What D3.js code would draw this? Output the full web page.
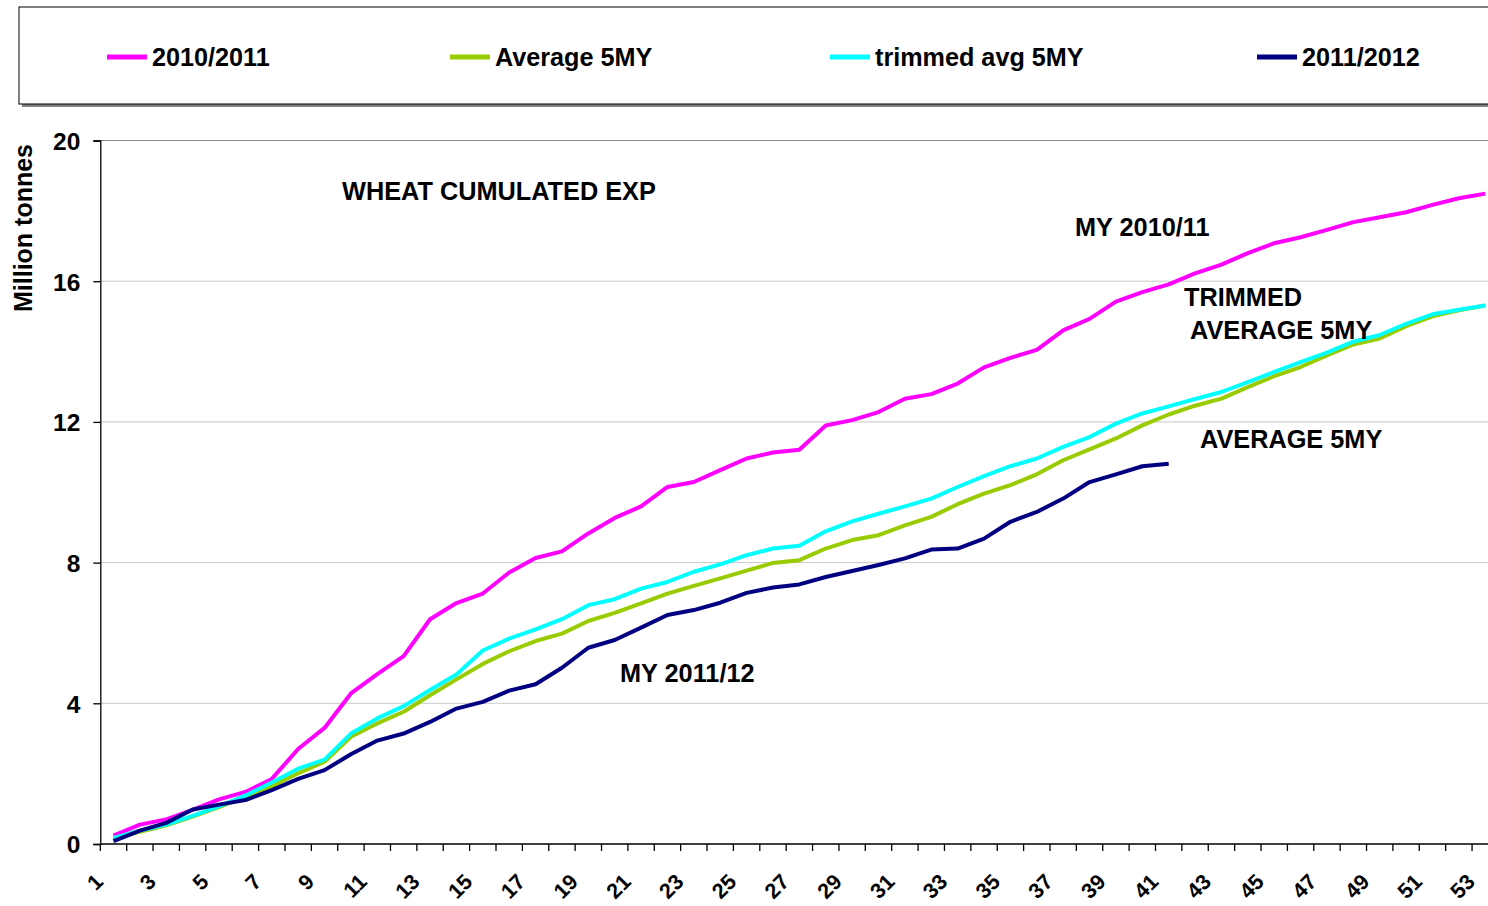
<!DOCTYPE html>
<html>
<head>
<meta charset="utf-8">
<script src="https://cdn.jsdelivr.net/npm/d3@7"></script>
<style>
  html, body { margin: 0; padding: 0; background: #fff; }
  svg { display: block; font-family: "Liberation Sans", Arial, sans-serif; }
</style>
</head>
<body>
<svg id="chart" width="1488" height="906"></svg>
<script>
// ---- data ----
const weeks = d3.range(1, 54); // 1..53
const tickLabels = weeks.filter(w => w % 2 === 1);
const yTicks = [0, 4, 8, 12, 16, 20];

const s2010 = [0.24,0.55,0.70,0.97,1.27,1.48,1.85,2.70,3.30,4.28,4.83,5.34,6.39,6.85,7.12,7.72,8.13,8.32,8.83,9.27,9.60,10.15,10.29,10.63,10.96,11.13,11.21,11.90,12.05,12.28,12.66,12.79,13.09,13.55,13.82,14.05,14.60,14.93,15.42,15.69,15.91,16.22,16.47,16.80,17.08,17.25,17.46,17.68,17.82,17.96,18.17,18.36,18.49];
const avg5 = [0.13,0.35,0.53,0.78,1.05,1.34,1.64,2.01,2.34,3.05,3.43,3.76,4.23,4.68,5.12,5.48,5.77,5.98,6.34,6.57,6.84,7.12,7.34,7.55,7.77,7.99,8.07,8.40,8.64,8.78,9.06,9.30,9.66,9.96,10.20,10.51,10.91,11.22,11.53,11.90,12.21,12.46,12.66,12.99,13.30,13.56,13.89,14.20,14.37,14.72,15.00,15.17,15.31];
const trim5 = [0.17,0.38,0.55,0.80,1.07,1.38,1.75,2.14,2.40,3.14,3.57,3.92,4.38,4.82,5.50,5.84,6.10,6.39,6.79,6.96,7.26,7.45,7.74,7.95,8.21,8.40,8.48,8.89,9.17,9.39,9.60,9.82,10.15,10.46,10.74,10.96,11.29,11.57,11.95,12.24,12.44,12.65,12.85,13.13,13.42,13.70,13.97,14.28,14.47,14.79,15.06,15.19,15.31];
const s2011 = [0.08,0.38,0.60,0.98,1.12,1.25,1.53,1.85,2.10,2.55,2.94,3.14,3.47,3.85,4.04,4.36,4.54,5.01,5.58,5.80,6.15,6.51,6.65,6.86,7.14,7.29,7.38,7.59,7.76,7.93,8.12,8.37,8.40,8.68,9.16,9.44,9.82,10.29,10.51,10.74,10.81];

const seriesNames = ["2010/2011", "Average 5MY", "trimmed avg 5MY", "2011/2012"];
const seriesColors = ["#FF00FF", "#99CC00", "#00FFFF", "#000080"];
const seriesData = [s2010, avg5, trim5, s2011];

const annotations = [
  {text: "WHEAT CUMULATED EXP", x: 342, y: 200},
  {text: "MY 2010/11", x: 1075, y: 236},
  {text: "TRIMMED", x: 1184, y: 306},
  {text: "AVERAGE 5MY", x: 1190, y: 339},
  {text: "AVERAGE 5MY", x: 1200, y: 448},
  {text: "MY 2011/12", x: 620, y: 682}
];

// ---- layout ----
const svg = d3.select("#chart");
const plotLeft = 100.3, bandW = 26.38;
const plotRight = plotLeft + weeks.length * bandW;
const plotTop = 140.5, plotBottom = 844;

const x = d3.scaleBand().domain(weeks).range([plotLeft, plotRight]).padding(0);
const y = d3.scaleLinear().domain([0, 20]).range([plotBottom, plotTop]);
const cx = w => x(w) + x.bandwidth() / 2;

// legend box
svg.append("rect").attr("x", 22).attr("y", 10).attr("width", 1500).attr("height", 97).attr("fill", "#808080");
svg.append("rect").attr("x", 19).attr("y", 7).attr("width", 1500).attr("height", 97)
  .attr("fill", "#fff").attr("stroke", "#000").attr("stroke-width", 1);

const legendX = [107, 450, 830, 1257];
seriesNames.forEach((n, i) => {
  svg.append("line").attr("x1", legendX[i]).attr("x2", legendX[i] + 40)
    .attr("y1", 57).attr("y2", 57).attr("stroke", seriesColors[i]).attr("stroke-width", 5);
  svg.append("text").attr("x", legendX[i] + 45).attr("y", 66)
    .attr("font-size", 25.2).attr("font-weight", "bold").attr("fill", "#000").text(n);
});

// gridlines
svg.append("g").selectAll("line").data(yTicks.filter(t => t > 0)).join("line")
  .attr("x1", plotLeft).attr("x2", plotRight)
  .attr("y1", d => y(d)).attr("y2", d => y(d))
  .attr("stroke", d => d === 20 ? "#8a8a8a" : "#c8c8c8").attr("stroke-width", 1);

// y axis
const yAxis = d3.axisLeft(y).tickValues(yTicks).tickSize(7).tickPadding(13);
const gy = svg.append("g").attr("transform", `translate(${plotLeft},0)`).call(yAxis);
gy.select(".domain").attr("stroke", "#000").attr("stroke-width", 1.3);
gy.selectAll(".tick line").attr("stroke", "#000").attr("stroke-width", 1.3);
gy.selectAll(".tick text").attr("font-size", 24.5).attr("font-weight", "bold").attr("fill", "#000")
  .attr("font-family", "Liberation Sans, Arial, sans-serif").attr("dy", "0.36em");

// x axis
const xAxis = d3.axisBottom(x).tickValues(tickLabels).tickSize(0).tickPadding(0);
const gx = svg.append("g").attr("transform", `translate(0,${plotBottom})`).call(xAxis);
gx.select(".domain").remove();
gx.selectAll(".tick text").attr("font-size", 21.5).attr("font-weight", "bold").attr("fill", "#000")
  .attr("font-family", "Liberation Sans, Arial, sans-serif")
  .attr("text-anchor", "end").attr("dy", 0).attr("y", 0)
  .attr("transform", "translate(-9,39) rotate(-45)");
svg.append("line").attr("x1", plotLeft).attr("x2", plotRight).attr("y1", plotBottom).attr("y2", plotBottom)
  .attr("stroke", "#000").attr("stroke-width", 1.3);
svg.append("g").selectAll("line").data(weeks.concat([null])).join("line")
  .attr("x1", (d, i) => plotLeft + i * x.bandwidth()).attr("x2", (d, i) => plotLeft + i * x.bandwidth())
  .attr("y1", plotBottom).attr("y2", plotBottom + 7).attr("stroke", "#000").attr("stroke-width", 1.3);

// y axis title
svg.append("text").attr("transform", "translate(32,228) rotate(-90)")
  .attr("text-anchor", "middle").attr("font-size", 25).attr("font-weight", "bold").attr("fill", "#000")
  .text("Million tonnes");

// lines
const line = d3.line().x((d, i) => cx(weeks[i])).y(d => y(d));
seriesData.forEach((s, i) => {
  svg.append("path").datum(s).attr("d", line).attr("fill", "none")
    .attr("stroke", seriesColors[i]).attr("stroke-width", 4).attr("stroke-linejoin", "round");
});

// annotations
svg.append("g").selectAll("text").data(annotations).join("text")
  .attr("x", d => d.x).attr("y", d => d.y).attr("font-size", 25.3).attr("font-weight", "bold")
  .attr("fill", "#000").text(d => d.text);
</script>
</body>
</html>
